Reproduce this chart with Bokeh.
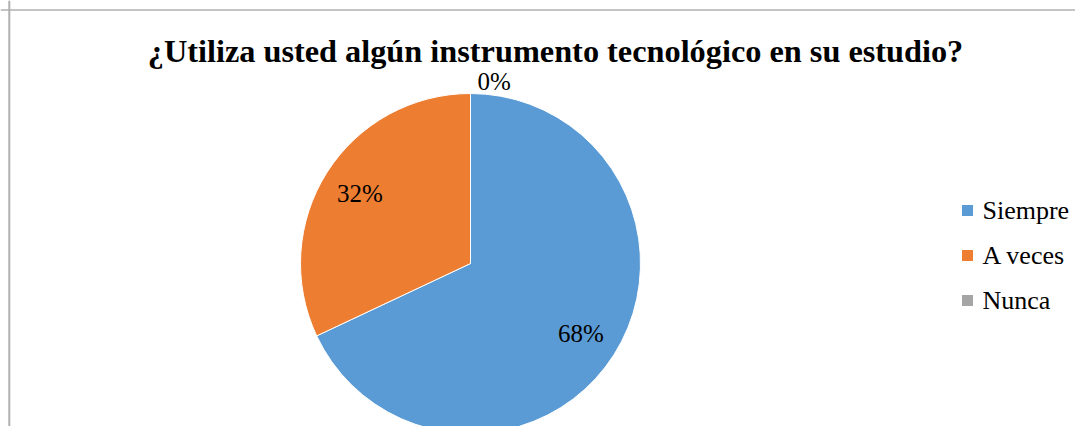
import math
from bokeh.plotting import figure
from bokeh.models import Range1d, Span
from bokeh.core.properties import value
from bokeh.embed import file_html
from bokeh.resources import INLINE

# ---- data ----
categories = ["Siempre", "A veces", "Nunca"]
percents = [68, 32, 0]
colors = ["#5B9BD5", "#ED7D31", "#A5A5A5"]
title_text = "¿Utiliza usted algún instrumento tecnológico en su estudio?"

W, H = 1075, 426
FONT = "Liberation Serif"

p = figure(width=W, height=H, output_backend="svg", toolbar_location=None,
           x_range=Range1d(0, W), y_range=Range1d(0, H), min_border=0)
p.axis.visible = False
p.grid.visible = False
p.outline_line_color = None
p.background_fill_color = "white"
p.border_fill_color = "white"

# chart border (top and left visible; chart extends past window)
p.add_layout(Span(location=H - 9.5, dimension="width", line_color="#B0B0B0", line_width=1.5))
p.add_layout(Span(location=8.8, dimension="height", line_color="#B0B0B0", line_width=2))

# title
p.text(x=[555], y=[H - 50], text=[title_text], text_font=value(FONT),
       text_font_size="32.3px", text_font_style="bold", text_align="center",
       text_baseline="middle", text_color="black")

# pie
cx, cy, r = 470, H - 263, 170
total = sum(percents)
starts, ends, lx, ly, labels, aligns = [], [], [], [], [], []
cum = 0.0
for v in percents:
    a0 = math.pi / 2 - 2 * math.pi * cum / total
    cum += v
    a1 = math.pi / 2 - 2 * math.pi * cum / total
    starts.append(a0)
    ends.append(a1)
    mid = (a0 + a1) / 2
    labels.append(f"{v}%")
    if v == 0:
        lx.append(cx + (r + 12) * math.cos(mid) + 7)
        ly.append(cy + (r + 12) * math.sin(mid))
        aligns.append("left")
    else:
        lx.append(cx + 0.77 * r * math.cos(mid))
        ly.append(cy + 0.77 * r * math.sin(mid))
        aligns.append("center")

for s, e, c, v in zip(starts, ends, colors, percents):
    if v > 0:
        p.wedge(x=cx, y=cy, radius=r, start_angle=s, end_angle=e,
                direction="clock", fill_color=c, line_color="white", line_width=1)

p.text(x=lx, y=ly, text=labels, text_align=aligns, text_baseline="middle",
       text_font=value(FONT), text_font_size="25px", text_color="black")

# legend
lgx, lgy0, step = 967, H - 210, 45
for i, (cat, c) in enumerate(zip(categories, colors)):
    yy = lgy0 - i * step
    p.rect(x=lgx, y=yy, width=11, height=11, fill_color=c, line_color=None)
    p.text(x=[lgx + 15], y=[yy], text=[cat], text_align="left",
           text_baseline="middle", text_font=value(FONT),
           text_font_size="26px", text_color="black")

open("out.html", "w").write(file_html(p, INLINE))
